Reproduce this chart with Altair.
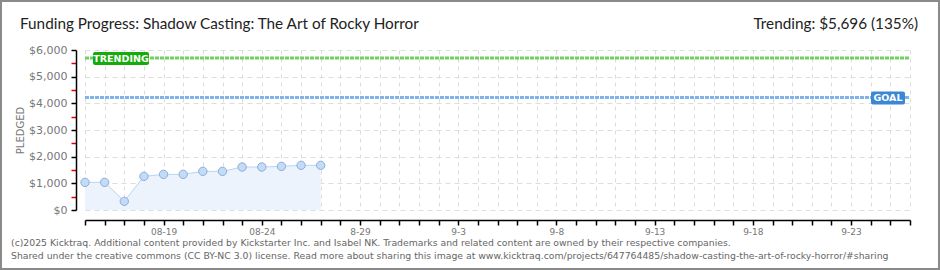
import altair as alt
import pandas as pd

# ---- data ----
days = list(range(13))
pledged = [1037, 1037, 325, 1262, 1337, 1337, 1450, 1450, 1612, 1612, 1637, 1675, 1675]
trending_value = 5696
goal_value = 4220
tick_days = list(range(43))
label_days = [4, 9, 14, 19, 24, 29, 34, 39]
label_texts = ["08-19", "08-24", "8-29", "9-3", "9-8", "9-13", "9-18", "9-23"]
y_ticks = list(range(0, 6001, 500))

title_text = "Funding Progress: Shadow Casting: The Art of Rocky Horror"
trend_text = "Trending:  $5,696 (135%)"
footer_1 = "(c)2025 Kicktraq. Additional content provided by Kickstarter Inc. and Isabel NK. Trademarks and related content are owned by their respective companies."
footer_2 = "Shared under the creative commons (CC BY-NC 3.0) license. Read more about sharing this image at www.kicktraq.com/projects/647764485/shadow-casting-the-art-of-rocky-horror/#sharing"

df = pd.DataFrame({"day": days, "pledged": pledged})

# label expression for x axis
expr = "''"
for d, t in zip(reversed(label_days), reversed(label_texts)):
    expr = f"datum.value == {d} ? '{t}' : ({expr})"

FONT = "DejaVu Sans"

xscale = alt.Scale(domain=[0, 42], nice=False, zero=False)
yscale = alt.Scale(domain=[0, 6000], nice=False)

xaxis = alt.Axis(
    values=tick_days, labelExpr=expr, title=None, offset=10,
    domainColor="#000", domainWidth=1.5, tickColor="#000", tickSize=5, tickWidth=1.5,
    labelColor="#777", labelFont=FONT, labelFontSize=9, labelPadding=2,
    grid=True, gridColor="#dddddd", gridDash=[4, 4], gridWidth=1,
    labelOverlap=False, labelFlush=False,
)
yaxis = alt.Axis(
    values=y_ticks,
    labelExpr="datum.value % 1000 == 0 ? '$' + format(datum.value, ',') : ''",
    title="PLEDGED", titleColor="#777", titleFont=FONT, titleFontSize=10,
    titleFontWeight="normal", titlePadding=3,
    offset=9, domainColor="#000", domainWidth=1.5,
    tickColor={"condition": {"test": "datum.value % 1000 == 0", "value": "#000"}, "value": "#e00000"},
    tickSize=5, tickWidth=1.5,
    labelColor="#777", labelFont=FONT, labelFontSize=11, labelPadding=4,
    grid=True, gridColor="#dddddd", gridDash=[5, 4], gridWidth=1,
    gridOpacity={"condition": {"test": "datum.value % 1000 == 0", "value": 1}, "value": 0},
    labelOverlap=False,
)

X = alt.X("day:Q", scale=xscale, axis=xaxis)


def Y(field):
    return alt.Y(field, scale=yscale, axis=yaxis)


base = alt.Chart(df)
area = base.mark_area(color="#ecf3fc", opacity=1).encode(x=X, y=Y("pledged:Q"))
line = base.mark_line(color="#b8d5f3", strokeWidth=1).encode(x=X, y=Y("pledged:Q"))
pts = base.mark_point(filled=True, fill="#c3dbf6", stroke="#8aaed8", strokeWidth=1,
                      size=70, opacity=1).encode(x=X, y=Y("pledged:Q"))

ref = pd.DataFrame({"v": [trending_value], "g": [goal_value]})
trend_line = alt.Chart(ref).mark_rule(color="#74cf63", strokeWidth=3, strokeDash=[4, 1]).encode(
    y=Y("v:Q"), x=alt.value(0), x2=alt.value(825))
goal_line = alt.Chart(ref).mark_rule(color="#80b3ea", strokeWidth=3, strokeDash=[4, 1]).encode(
    y=Y("g:Q"), x=alt.value(0), x2=alt.value(825))

trend_box = alt.Chart(ref).mark_rect(color="#17aa0c", cornerRadius=2, yOffset=-6, y2Offset=7).encode(
    y=Y("v:Q"), y2="v:Q", x=alt.value(8), x2=alt.value(64))
trend_lbl = alt.Chart(ref).mark_text(color="white", font=FONT, fontSize=9.5, fontWeight="bold",
                                     align="center", baseline="middle", dy=0.5).encode(
    y=Y("v:Q"), x=alt.value(36), text=alt.value("TRENDING"))
goal_box = alt.Chart(ref).mark_rect(color="#3b87d6", cornerRadius=2, yOffset=-6, y2Offset=7).encode(
    y=Y("g:Q"), y2="g:Q", x=alt.value(786), x2=alt.value(820))
goal_lbl = alt.Chart(ref).mark_text(color="white", font=FONT, fontSize=9.5, fontWeight="bold",
                                    align="center", baseline="middle", dy=0.5).encode(
    y=Y("g:Q"), x=alt.value(803), text=alt.value("GOAL"))

txt = pd.DataFrame({"t": [0]})
title = alt.Chart(txt).mark_text(font="Lato", fontSize=15.3, color="#222",
                                 align="left", baseline="middle").encode(
    x=alt.value(-65), y=alt.value(-26), text=alt.value(title_text))
trend_t = alt.Chart(txt).mark_text(font="Lato", fontSize=15.3, color="#222",
                                   align="right", baseline="middle").encode(
    x=alt.value(833), y=alt.value(-26), text=alt.value(trend_text))
f1 = alt.Chart(txt).mark_text(font=FONT, fontSize=9.3, color="#666", align="left",
                              baseline="middle").encode(
    x=alt.value(-74), y=alt.value(193), text=alt.value(footer_1))
f2 = alt.Chart(txt).mark_text(font=FONT, fontSize=9.3, color="#666", align="left",
                              baseline="middle").encode(
    x=alt.value(-74), y=alt.value(206), text=alt.value(footer_2))
frame = alt.Chart(txt).mark_rect(fill=None, stroke="#8a8a8a", strokeWidth=2, filled=False).encode(
    x=alt.value(-84), x2=alt.value(854), y=alt.value(-49), y2=alt.value(219))

chart = alt.layer(
    area, line, pts, trend_line, goal_line, trend_box, trend_lbl, goal_box, goal_lbl,
    title, trend_t, f1, f2, frame
).properties(
    width=825, height=160,
    autosize=alt.AutoSizeParams(type="none"),
    padding={"left": 85, "top": 50, "right": 30, "bottom": 60},
    background="white",
).configure_view(stroke=None)

chart.save("out.html", embed_options={"renderer": "svg", "actions": False})
